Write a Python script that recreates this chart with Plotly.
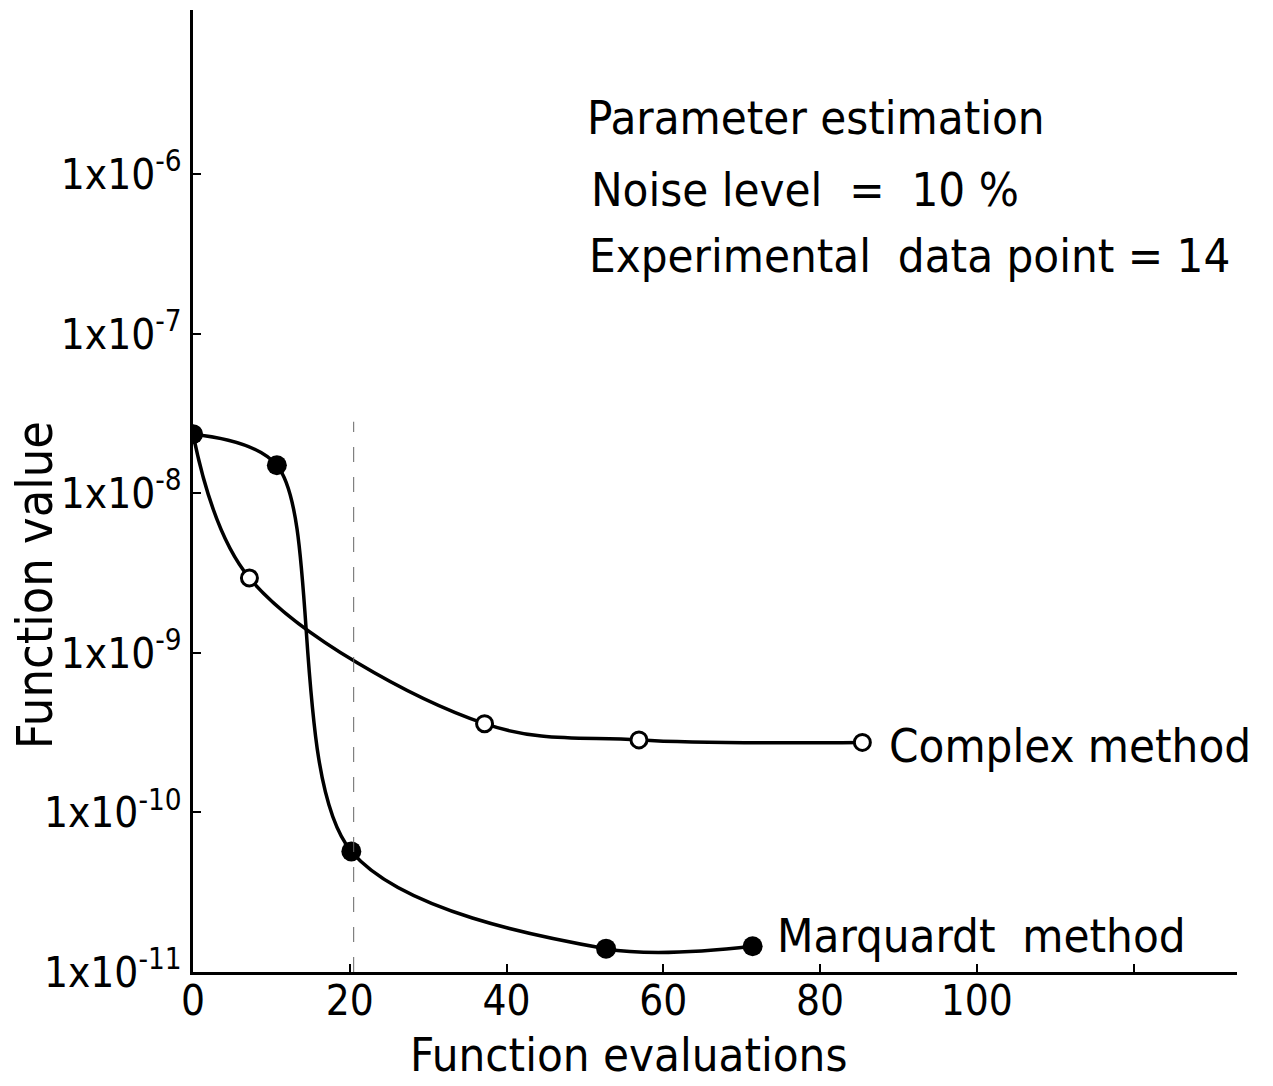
import numpy as np
import plotly.graph_objects as go

# Data (function evaluations vs. function value)
marq_x = [0, 10.7, 20.2, 52.7, 71.4]
marq_y = [2.35e-8, 1.5e-8, 5.7e-11, 1.4e-11, 1.45e-11]
comp_x = [0, 7.2, 37.2, 56.9, 85.4]
comp_y = [2.35e-8, 2.95e-9, 3.6e-10, 2.85e-10, 2.75e-10]

x_tickvals = [0, 20, 40, 60, 80, 100, 120]
x_ticktext = ["0", "20", "40", "60", "80", "100", ""]
y_tickvals = [1e-11, 1e-10, 1e-9, 1e-8, 1e-7, 1e-6]
y_ticktext = ["1x10<sup>-11</sup>", "1x10<sup>-10</sup>", "1x10<sup>-9</sup>",
              "1x10<sup>-8</sup>", "1x10<sup>-7</sup>", "1x10<sup>-6</sup>"]

FONT = "DejaVu Sans Condensed, Liberation Sans Narrow, DejaVu Sans, sans-serif"

fig = go.Figure()
fig.add_trace(go.Scatter(
    x=comp_x, y=comp_y, mode="lines+markers",
    line=dict(color="black", width=3.5, shape="spline", smoothing=1.0),
    marker=dict(symbol="circle", size=16, color="white",
                line=dict(color="black", width=3)),
    name="Complex method", showlegend=False))
fig.add_trace(go.Scatter(
    x=marq_x, y=marq_y, mode="lines+markers",
    line=dict(color="black", width=3.5, shape="spline", smoothing=0.9),
    marker=dict(symbol="circle", size=20, color="black"),
    name="Marquardt method", showlegend=False))

fig.add_shape(type="line", xref="x", yref="paper", x0=20.5, x1=20.5,
              y0=0, y1=0.572, line=dict(color="#666", width=1, dash="longdash"))

ann = [
    dict(text="Parameter estimation", x=50, y=0.888),
    dict(text="Noise level  =  10 %", x=50.5, y=0.813),
    dict(text="Experimental  data point = 14", x=50.3, y=0.745),
    dict(text="Complex method", x=88.6, y=0.235),
    dict(text="Marquardt  method", x=74.2, y=0.038),
]
for a in ann:
    fig.add_annotation(text=a["text"], x=a["x"], y=a["y"], xref="x", yref="paper",
                       xanchor="left", yanchor="middle", showarrow=False,
                       font=dict(family=FONT, size=47, color="black"))

fig.add_annotation(text="Function value", x=0, y=0.402, xref="paper", yref="paper",
                   xshift=-158, textangle=-90, showarrow=False,
                   xanchor="center", yanchor="middle",
                   font=dict(family=FONT, size=50, color="black"))
fig.add_annotation(text="Function evaluations", x=0.417, y=0, xref="paper", yref="paper",
                   yshift=-112, showarrow=False, xanchor="center", yanchor="bottom",
                   font=dict(family=FONT, size=47, color="black"))

fig.update_layout(
    width=1273, height=1086,
    margin=dict(l=193, r=36, t=10, b=114),
    paper_bgcolor="white", plot_bgcolor="white",
    font=dict(family=FONT, size=44, color="black"),
    xaxis=dict(range=[0, 133.2], tickvals=x_tickvals, ticktext=x_ticktext,
               showgrid=False, zeroline=False, showline=True, linecolor="black",
               linewidth=3, ticks="inside", ticklen=8, tickwidth=2, tickcolor="black",
               ticklabelstandoff=-10,
               tickfont=dict(family=FONT, size=42)),
    yaxis=dict(type="log", range=[-11, -4.97], tickvals=y_tickvals, ticktext=y_ticktext,
               showgrid=False, zeroline=False, showline=True, linecolor="black",
               linewidth=3, ticks="inside", ticklen=8, tickwidth=2, tickcolor="black",
               tickfont=dict(family=FONT, size=42)),
)

fig.write_html("out.html")
